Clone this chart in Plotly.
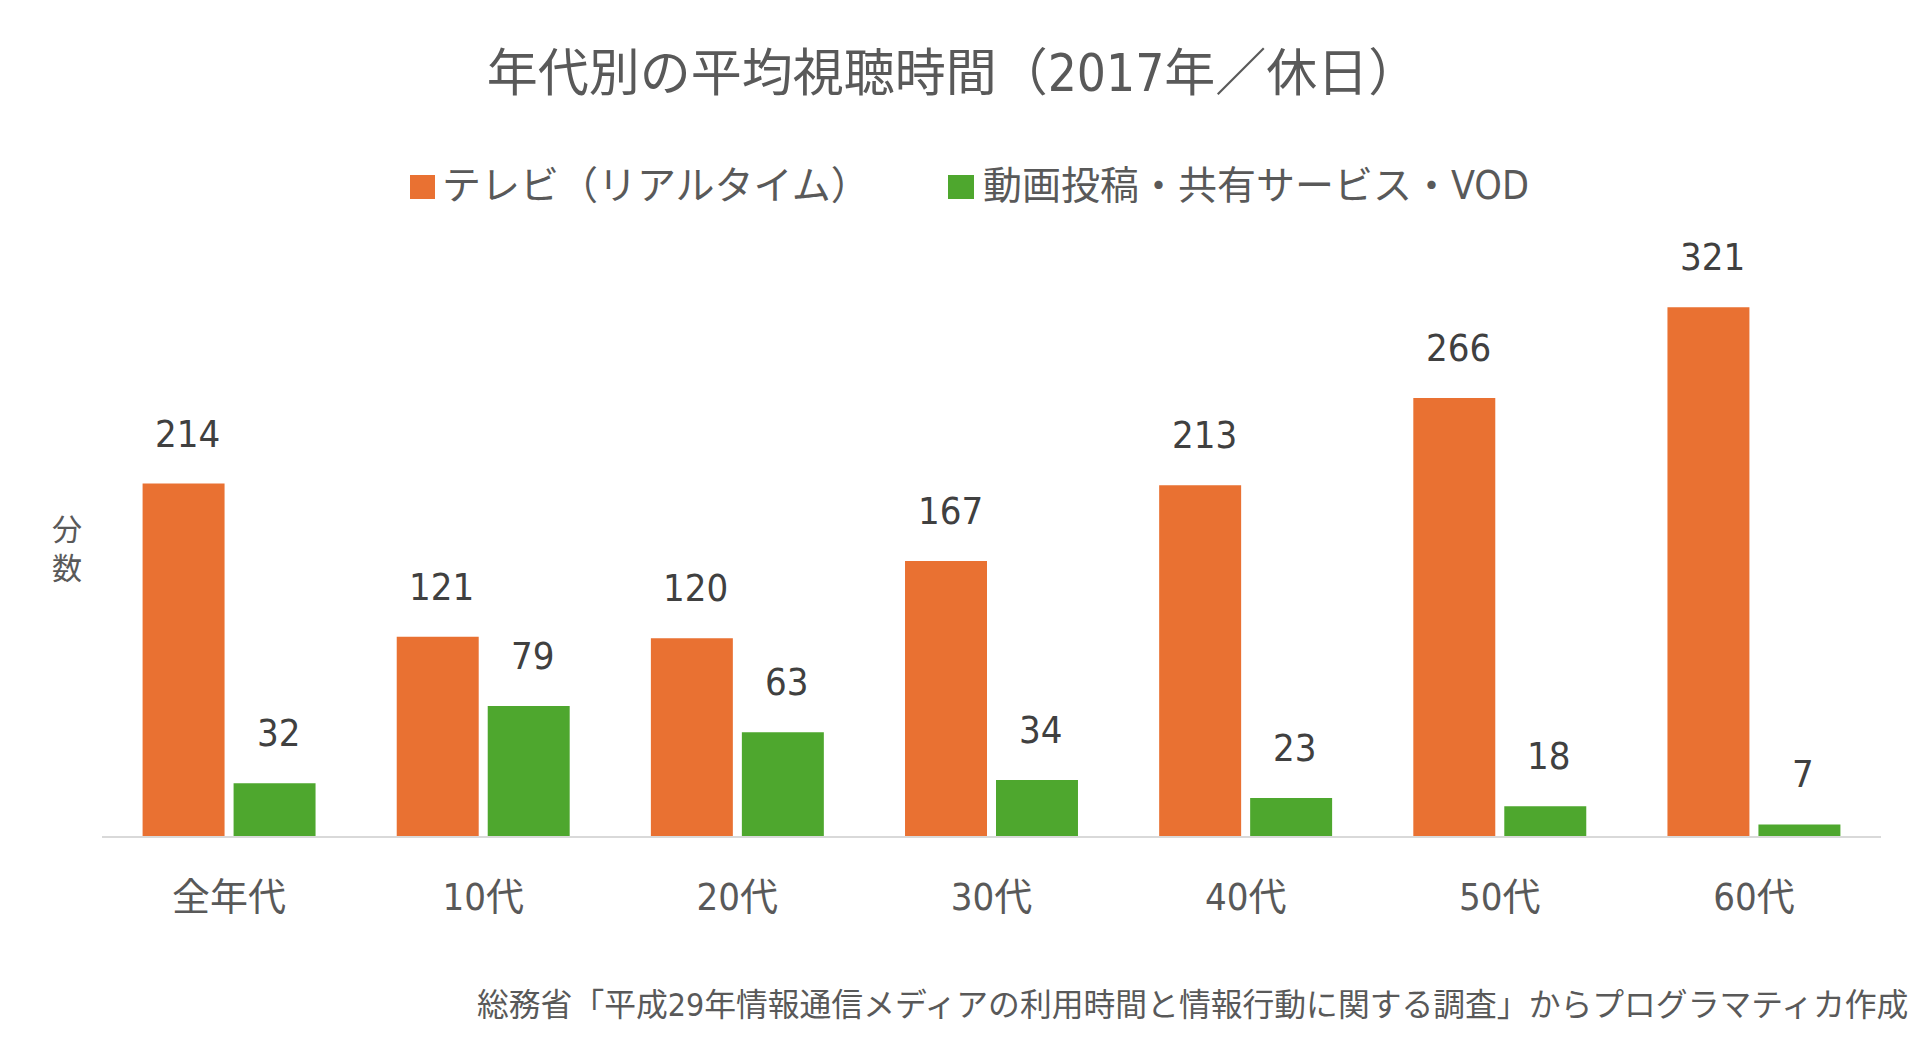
import plotly.graph_objects as go

# ---- data ----
categories = ["全年代", "10代", "20代", "30代", "40代", "50代", "60代"]
tv_values = [214, 121, 120, 167, 213, 266, 321]
vod_values = [32, 79, 63, 34, 23, 18, 7]
series_names = ["テレビ（リアルタイム）", "動画投稿・共有サービス・VOD"]
title_text = "年代別の平均視聴時間（2017年／休日）"
y_label = "分<br>数"
source_text = "総務省「平成29年情報通信メディアの利用時間と情報行動に関する調査」からプログラマティカ作成"

# ---- style ----
ORANGE = "#E97132"
GREEN = "#4EA72E"
TEXT = "#595959"
LABEL = "#404040"
FONT = "DejaVu Sans Condensed, Noto Sans CJK JP, sans-serif"

OFF = 8  # page body margin
W, H = 1920, 1053
ML, MR, MT, MB = 102 - OFF, 39 + OFF, 260 - OFF, 217 + OFF
PW, PH = W - ML - MR, H - MT - MB


def px_x(px):
    return (px - OFF - ML) / PW


def px_y(py):
    return (H - MB - (py - OFF)) / PH


fig = go.Figure()
fig.add_trace(go.Bar(x=categories, y=tv_values, name=series_names[0],
                     marker=dict(color=ORANGE, line=dict(width=0)), showlegend=False))
fig.add_trace(go.Bar(x=categories, y=vod_values, name=series_names[1],
                     marker=dict(color=GREEN, line=dict(width=0)), showlegend=False))

annotations = []
# data labels
for vals, shift in ((tv_values, -41.5), (vod_values, 49.5)):
    for c, v in zip(categories, vals):
        annotations.append(dict(x=c, y=v, xref="x", yref="y", text=str(v),
                                showarrow=False, xshift=shift, yshift=26,
                                yanchor="bottom", xanchor="center",
                                font=dict(family=FONT, size=38, color=LABEL)))

# y-axis label
annotations.append(dict(x=px_x(67), y=px_y(549), xref="paper", yref="paper",
                        text=y_label, showarrow=False, xanchor="center", yanchor="middle",
                        font=dict(family=FONT, size=30, color=TEXT)))

# legend (manual)
shapes = []
legend_items = [(410, 435, 440, ORANGE, series_names[0]),
                (948, 974, 981, GREEN, series_names[1])]
for x0, x1, tx, col, name in legend_items:
    shapes.append(dict(type="rect", xref="paper", yref="paper",
                       x0=px_x(x0), x1=px_x(x1), y0=px_y(199), y1=px_y(175),
                       fillcolor=col, line=dict(width=0)))
    annotations.append(dict(x=px_x(tx), y=px_y(186), xref="paper", yref="paper",
                            text=name, showarrow=False, xanchor="left", yanchor="middle",
                            font=dict(family=FONT, size=39, color=TEXT)))

# source
annotations.append(dict(x=px_x(1910), y=px_y(1004), xref="paper", yref="paper",
                        text=source_text, showarrow=False, xanchor="right", yanchor="middle",
                        font=dict(family=FONT, size=31.8, color=TEXT)))

fig.update_layout(
    width=W, height=H,
    margin=dict(l=ML, r=MR, t=MT, b=MB),
    paper_bgcolor="white", plot_bgcolor="white",
    barmode="group", bargap=0.284, bargroupgap=0.099,
    title=dict(text=title_text, x=(953 - OFF) / W, xref="container", xanchor="center",
               y=1 - (73 - OFF) / H, yref="container", yanchor="middle",
               font=dict(family=FONT, size=51, color=TEXT)),
    xaxis=dict(showline=True, linecolor="#D9D9D9", linewidth=2, ticks="",
               showgrid=False, zeroline=False, ticklabelstandoff=26,
               tickfont=dict(family=FONT, size=38, color=TEXT)),
    yaxis=dict(range=[0, PH / 1.647], showticklabels=False, showgrid=False,
               zeroline=False, showline=False),
    annotations=annotations,
    shapes=shapes,
    showlegend=False,
)

fig.write_html("out.html")
